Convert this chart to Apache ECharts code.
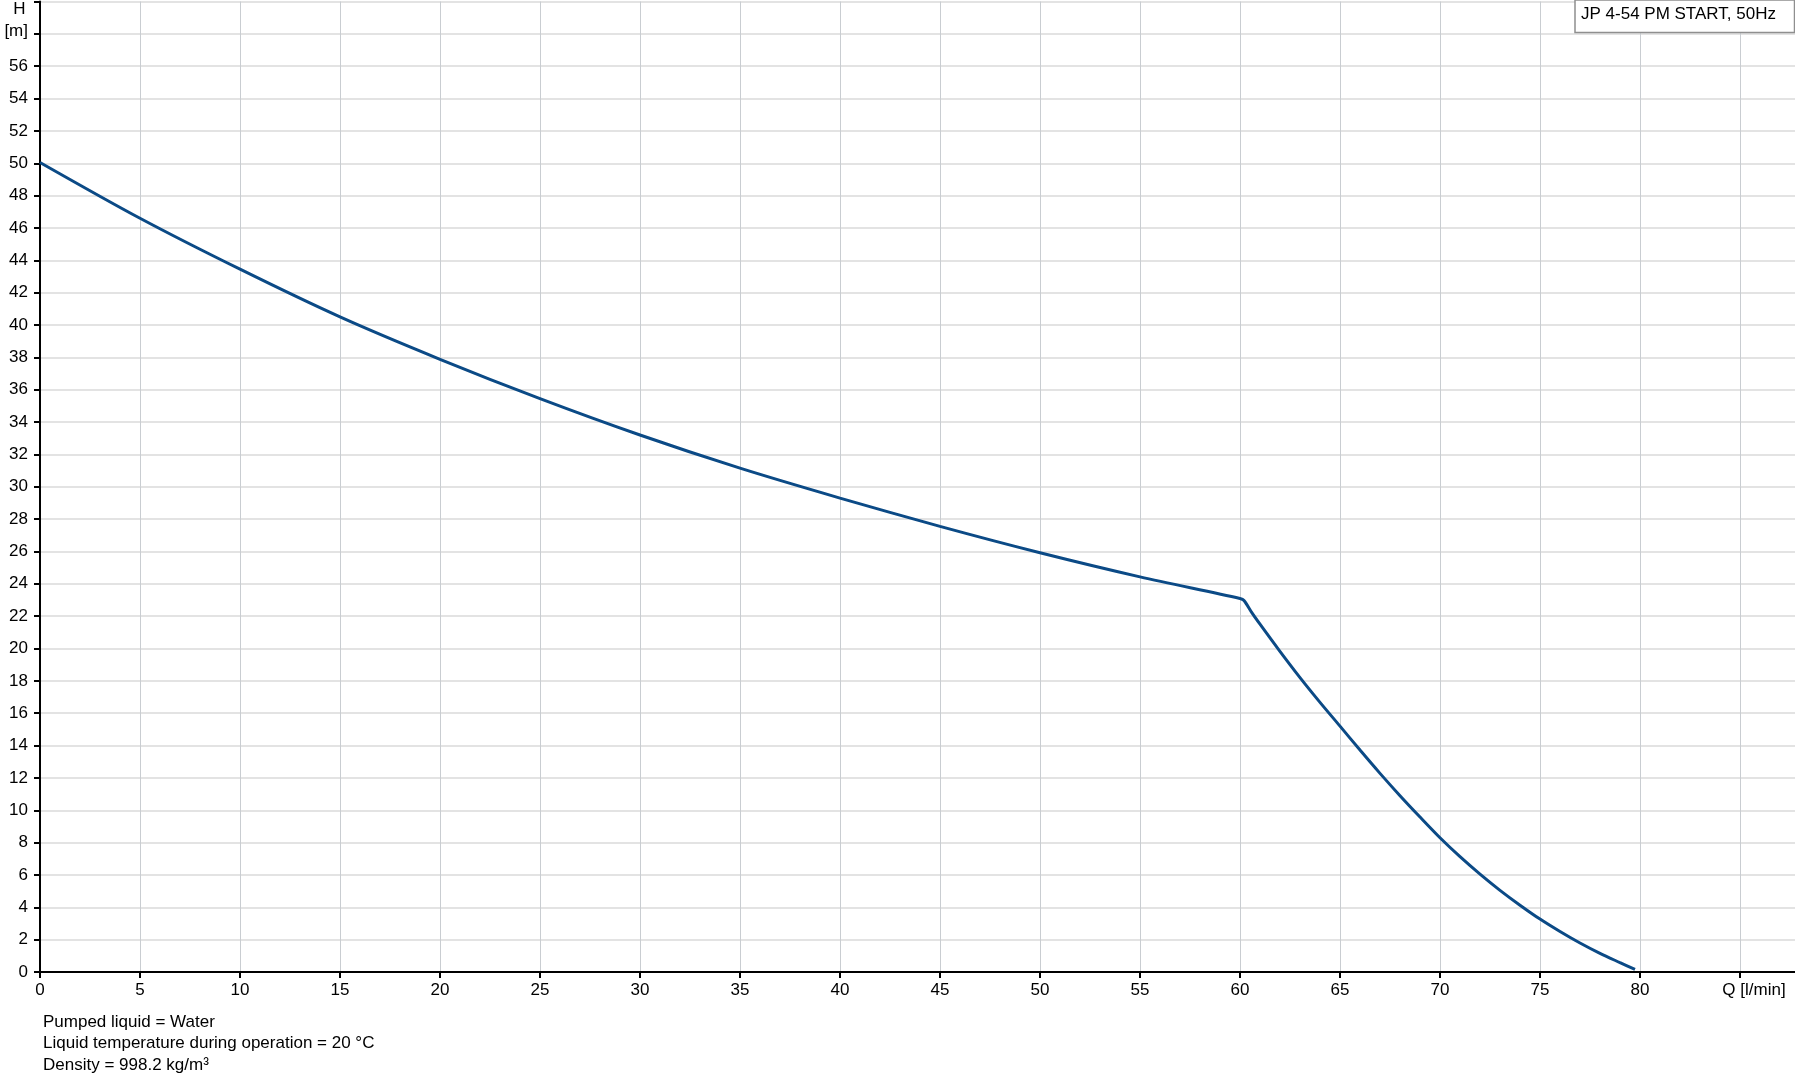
<!DOCTYPE html>
<html>
<head>
<meta charset="utf-8">
<script src="https://cdn.jsdelivr.net/npm/echarts@6/dist/echarts.min.js"></script>
<style>
html,body{margin:0;padding:0;background:#fff;}
#chart{width:1795px;height:1081px;}
</style>
</head>
<body>
<div id="chart"></div>
<script>
// Flow Q [l/min]
const flowQ = [0, 5, 10, 15, 20, 25, 30, 35, 40, 45, 50, 55, 60, 60.2, 60.6, 61, 61.95, 63, 64, 65, 66, 67, 68, 69, 70, 71, 72, 73, 74, 75, 76, 77, 78, 79, 79.75];
// Head H [m]
const headH = [50.05, 46.6, 43.45, 40.5, 37.88, 35.45, 33.2, 31.15, 29.3, 27.55, 25.92, 24.43, 23.09, 22.97, 22.2, 21.5, 19.9, 18.2, 16.67, 15.2, 13.72, 12.28, 10.9, 9.58, 8.3, 7.13, 6.05, 5.05, 4.13, 3.27, 2.5, 1.79, 1.15, 0.58, 0.16];
const xTickLabels = {85: '{q|Q [l/min]}'};
const yTickLabels = {58: '{m|[m]}', 60: ''};
const legendTitle = 'JP 4-54 PM START, 50Hz';
const yAxisName = 'H';
const footerLines = ['Pumped liquid = Water', 'Liquid temperature during operation = 20 °C', 'Density = 998.2 kg/m³'];

const FONT = "'Liberation Sans', Arial, sans-serif";
const FS = 17;
const chart = echarts.init(document.getElementById('chart'), null, {renderer: 'canvas'});

const data = flowQ.map((q, i) => [q, headH[i]]);

chart.setOption({
  animation: false,
  backgroundColor: '#ffffff',
  grid: {left: 40, right: 0, top: 1.5, bottom: 109, containLabel: false},
  xAxis: {
    type: 'value', min: 0, max: 87.75, interval: 5,
    axisLine: {onZero: false, lineStyle: {color: '#000', width: 2}},
    axisTick: {length: 6, lineStyle: {color: '#000', width: 2}},
    axisLabel: {
      color: '#000', fontSize: FS, fontFamily: FONT, margin: 10,
      showMaxLabel: false,
      rich: {q: {color: '#000', fontSize: FS, fontFamily: FONT, padding: [0, 0, 0, 28]}},
      formatter: v => {
        if (Math.abs(v % 5) > 1e-6) return '';
        return xTickLabels[v] !== undefined ? xTickLabels[v] : String(v);
      }
    },
    splitLine: {show: true, lineStyle: {color: '#c9cdd1', width: 1}}
  },
  yAxis: {
    type: 'value', min: 0, max: 60, interval: 2,
    axisLine: {onZero: false, lineStyle: {color: '#000', width: 2}},
    axisTick: {length: 6, lineStyle: {color: '#000', width: 2}},
    axisLabel: {
      color: '#000', fontSize: FS, fontFamily: FONT, margin: 12,
      rich: {m: {color: '#000', fontSize: FS, fontFamily: FONT, padding: [0, 0, 6, 0]}},
      formatter: v => yTickLabels[v] !== undefined ? yTickLabels[v] : String(v)
    },
    splitLine: {show: true, lineStyle: {color: '#dadada', width: 1.5}}
  },
  series: [{
    type: 'line',
    data: data,
    showSymbol: false,
    smooth: 0.3,
    lineStyle: {color: '#0b4a86', width: 3},
    z: 5
  }],
  graphic: [
    {
      type: 'text', x: 19.5, y: 9, z: 10,
      style: {text: yAxisName, fill: '#000', font: FS + 'px ' + FONT, textAlign: 'center', textVerticalAlign: 'middle'}
    },
    {
      type: 'rect', x: 1575, y: 0, z: 10,
      shape: {x: 0, y: 0, width: 219.5, height: 32.5},
      style: {fill: '#fff', stroke: '#8f8f8f', lineWidth: 1.5}
    },
    {
      type: 'text', x: 1581, y: 14, z: 11,
      style: {text: legendTitle, fill: '#000', font: FS + 'px ' + FONT, textAlign: 'left', textVerticalAlign: 'middle'}
    },
    {
      type: 'text', x: 43, y: 1011.5, z: 10,
      style: {text: footerLines.join('\n'), fill: '#000', font: FS + 'px ' + FONT, lineHeight: 21.5, textAlign: 'left', textVerticalAlign: 'top'}
    }
  ]
});
</script>
</body>
</html>
